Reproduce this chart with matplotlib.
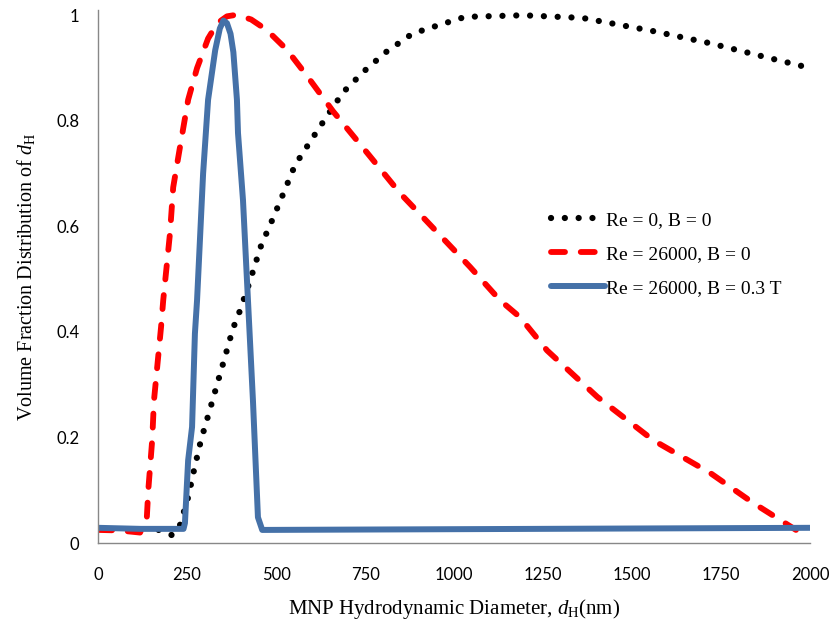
import matplotlib.pyplot as plt

plt.rcParams['mathtext.fontset'] = 'custom'
plt.rcParams['mathtext.it'] = 'Liberation Serif:italic'
plt.rcParams['mathtext.rm'] = 'Liberation Serif'

# Re = 0, B = 0 (dotted black)
x_re0 = [170, 208, 230, 253, 270, 289, 312, 334, 357, 379, 393, 421, 458, 491, 522, 553,
         598, 643, 688, 747, 808, 876, 913, 1031, 1194, 1360, 1559, 1719, 1879, 2000]
y_re0 = [0.025, 0.015, 0.034, 0.087, 0.14, 0.195, 0.248, 0.30, 0.354, 0.407, 0.43, 0.485,
         0.564, 0.615, 0.665, 0.716, 0.763, 0.809, 0.854, 0.894, 0.930, 0.962, 0.972,
         0.997, 1.0, 0.995, 0.97, 0.947, 0.92, 0.90]

# Re = 26000, B = 0 (dashed red)
x_re26 = [0, 60, 118, 137, 141, 152, 157, 166, 177, 183, 202, 211, 230, 253, 278, 309,
          335, 362, 380, 399, 430, 474, 530, 587, 660, 755, 848, 913, 1045, 1129, 1185,
          1261, 1402, 1559, 1719, 1840, 1960]
y_re26 = [0.025, 0.024, 0.02, 0.049, 0.10, 0.195, 0.27, 0.333, 0.41, 0.46, 0.587, 0.674,
          0.75, 0.84, 0.90, 0.956, 0.985, 0.998, 1.0, 0.999, 0.992, 0.972, 0.935, 0.885,
          0.818, 0.74, 0.663, 0.617, 0.523, 0.46, 0.428, 0.365, 0.277, 0.195, 0.133,
          0.076, 0.025]

# Re = 26000, B = 0.3 T (solid blue)
x_b03 = [0, 120, 240, 244, 253, 264, 272, 278, 287, 295, 309, 329, 342, 352, 362, 372,
         380, 390, 393, 407, 421, 435, 449, 461, 2000]
y_b03 = [0.029, 0.027, 0.027, 0.038, 0.157, 0.22, 0.397, 0.46, 0.587, 0.70, 0.84, 0.934,
         0.975, 0.99, 0.985, 0.965, 0.93, 0.84, 0.777, 0.65, 0.46, 0.27, 0.049, 0.025,
         0.029]

labels = ['Re = 0, B = 0', 'Re = 26000, B = 0', 'Re = 26000, B = 0.3 T']
xticks = [0, 250, 500, 750, 1000, 1250, 1500, 1750, 2000]
yticks = [0, 0.2, 0.4, 0.6, 0.8, 1]

fig = plt.figure(figsize=(8.31, 6.25), dpi=100)
ax = fig.add_axes([0.118, 0.131, 0.857, 0.853])

ax.plot(x_re0, y_re0, color='black', lw=4.5, linestyle=(0, (0.01, 2.2)),
        dash_capstyle='round', label=labels[0])
ax.plot(x_re26, y_re26, color='#ff0000', lw=4.2, linestyle=(0, (2.4, 2.7)),
        dash_capstyle='round', label=labels[1])
ax.plot(x_b03, y_b03, color='#4571a8', lw=4.3, solid_capstyle='round',
        solid_joinstyle='round', label=labels[2])

ax.set_xlim(0, 2000)
ax.set_ylim(0, 1.01)
ax.set_xticks(xticks)
ax.set_xticklabels([str(t) for t in xticks])
ax.set_yticks(yticks)
ax.set_yticklabels(['0', '0.2', '0.4', '0.6', '0.8', '1'])
ax.tick_params(length=0, labelsize=12)
ax.tick_params(axis='x', pad=17)
ax.tick_params(axis='y', pad=13.5)
for lab in ax.get_xticklabels() + ax.get_yticklabels():
    lab.set_fontfamily('Lato')

for s in ['top', 'right']:
    ax.spines[s].set_visible(False)
for s in ['left', 'bottom']:
    ax.spines[s].set_color('#888888')
    ax.spines[s].set_linewidth(1)

ax.set_xlabel(r'MNP Hydrodynamic Diameter, $d_{\mathrm{H}}$(nm)', fontsize=15,
              family='Liberation Serif', labelpad=10)
ax.set_ylabel(r'Volume Fraction Distribution of $d_{\mathrm{H}}$', fontsize=14.5,
              family='Liberation Serif', labelpad=14)

ax.legend(loc='center left', bbox_to_anchor=(0.611, 0.542), frameon=False,
          prop={'family': 'Liberation Serif', 'size': 14}, handlelength=2.8,
          handletextpad=0.05, labelspacing=0.85)

fig.savefig('out.png', dpi=100)
